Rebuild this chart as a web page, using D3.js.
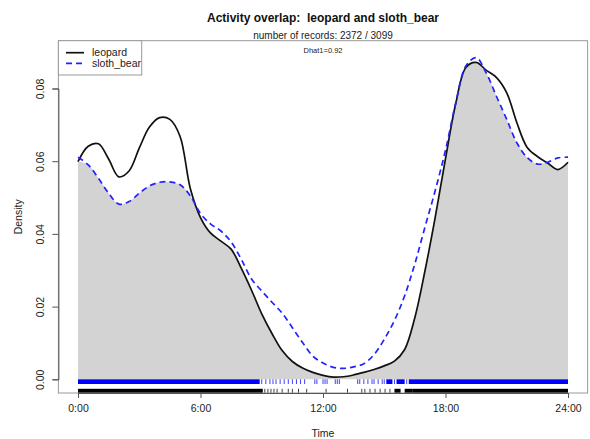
<!DOCTYPE html>
<html>
<head>
<meta charset="utf-8">
<script src="https://cdn.jsdelivr.net/npm/d3@7/dist/d3.min.js"></script>
<style>
  html, body { margin: 0; padding: 0; background: #fff; }
  svg { display: block; font-family: "Liberation Sans", Arial, sans-serif; }
</style>
</head>
<body>
<svg id="chart" width="590" height="439"></svg>
<script>
// Kernel density of activity (hour of day) for the two species
const hours = [0,0.5,1,1.5,2,2.5,3,3.5,4,4.5,5,5.5,6,6.5,7,7.5,8,8.5,9,9.5,10,10.5,11,11.5,
               12,12.5,13,13.5,14,14.5,15,15.5,16,16.5,17,17.5,18,18.5,19,19.5,20,20.5,21,21.5,22,22.5,23,23.5,24];
const leopard = [0.0599,0.0641,0.0648,0.0606,0.0557,0.0573,0.0636,0.0694,0.0720,0.0715,0.0668,0.0525,0.0445,0.0402,0.0380,0.0358,0.0305,0.0245,0.0180,0.0126,0.0079,0.0049,0.0031,0.0019,
                 0.0011,0.0006,0.0007,0.0012,0.0019,0.0027,0.0037,0.0050,0.0082,0.0170,0.0300,0.0447,0.0607,0.0758,0.0858,0.0872,0.0850,0.0830,0.0788,0.0705,0.0638,0.0613,0.0595,0.0577,0.0597];
const slothBear = [0.0611,0.0590,0.0553,0.0512,0.0482,0.0489,0.0512,0.0532,0.0542,0.0543,0.0535,0.0505,0.0456,0.0427,0.0408,0.0378,0.0330,0.0276,0.0243,0.0212,0.0182,0.0142,0.0101,0.0064,
                   0.0045,0.0033,0.0030,0.0034,0.0043,0.0068,0.0110,0.0162,0.0230,0.0318,0.0420,0.0520,0.0630,0.0760,0.0862,0.0885,0.0842,0.0778,0.0715,0.0650,0.0610,0.0592,0.0597,0.0609,0.0611];

// Record times shown as rugs: continuous runs [from, to] and isolated records (hours)
const bearRuns = [[0,8.9],[15.1,15.4],[15.6,16.0],[16.2,24]];
const bearTimes = [9.0,9.2,9.4,9.55,9.7,9.9,10.1,10.3,10.5,10.7,10.9,11.1,11.6,11.7,12.0,12.1,12.2,12.6,12.7,12.8,
                   13.7,13.8,14.0,14.2,14.4,14.5,14.7,14.9,15.0,15.5,16.1];
const leopardRuns = [[0,9.05],[15.5,15.8],[16.0,16.4],[16.4,24]];
const leopardTimes = [9.15,9.3,9.45,9.6,9.75,10.0,10.3,10.5,10.8,11.2,12.15,13.2,13.9,14.05,14.3,14.55,14.8,15.04,15.28];

const xTicks = [0,6,12,18,24];
const xTickLabels = ["0:00","6:00","12:00","18:00","24:00"];
const yTicks = [0,0.02,0.04,0.06,0.08];

const svg = d3.select("#chart");
const x = d3.scaleLinear().domain([0,24]).range([78,568]);
const y = d3.scaleLinear().domain([0,0.08]).range([379.3,88.5]);

// plotting region (axis ranges padded by 4%)
const bx0 = x(-0.96), bx1 = x(24.96);
const by0 = 40.7, by1 = 393;

// overlap area = pointwise minimum of both densities
const overlap = hours.map((h,i)=>({h, d: Math.min(leopard[i], slothBear[i])}));
svg.append("path")
  .datum(overlap)
  .attr("fill","#d3d3d3")
  .attr("d", d3.area().x(p=>x(p.h)).y0(y(0)).y1(p=>y(p.d)).curve(d3.curveCatmullRom));

// rugs
function rug(runs, times, top, bottom, color){
  const g = svg.append("g");
  g.selectAll("rect").data(runs).join("rect")
    .attr("x", r=>x(r[0])).attr("width", r=>x(r[1])-x(r[0]))
    .attr("y", top).attr("height", bottom-top).attr("fill", color);
  g.selectAll("line").data(times).join("line")
    .attr("x1", t=>x(t)).attr("x2", t=>x(t))
    .attr("y1", top).attr("y2", bottom)
    .attr("stroke", color).attr("stroke-width",1).attr("opacity",0.75);
}
rug(bearRuns, bearTimes, y(0), y(0)+4.7, "#0000ff");
rug(leopardRuns, leopardTimes, y(0)+9.5, by1, "#000");

// density curves
const line = d3.line().x((d,i)=>x(hours[i])).y(d=>y(d)).curve(d3.curveCatmullRom);
svg.append("path").datum(leopard).attr("fill","none").attr("stroke","#111")
  .attr("stroke-width",1.7).attr("d", line);
svg.append("path").datum(slothBear).attr("fill","none").attr("stroke","#2222ff")
  .attr("stroke-width",1.7).attr("stroke-dasharray","6,4").attr("d", line);

// frame
svg.append("rect").attr("x",bx0).attr("y",by0).attr("width",bx1-bx0).attr("height",by1-by0)
  .attr("fill","none").attr("stroke","#999").attr("stroke-width",1);

// x axis
const xAxis = svg.append("g").attr("transform",`translate(0,${by1})`)
  .call(d3.axisBottom(x).tickValues(xTicks).tickFormat((d,i)=>xTickLabels[i]).tickSizeOuter(0).tickSize(5).tickPadding(7));
xAxis.select(".domain").attr("stroke","#555");
xAxis.selectAll(".tick line").attr("stroke","#555");
xAxis.selectAll("text").attr("font-size",10.5).attr("fill","#222").attr("font-family","Liberation Sans, Arial, sans-serif");

// y axis with labels parallel to the axis
const yAxis = svg.append("g").attr("transform",`translate(${bx0},0)`)
  .call(d3.axisLeft(y).tickValues(yTicks).tickFormat(d3.format(".2f")).tickSizeOuter(0).tickSize(6));
yAxis.select(".domain").attr("stroke","#555");
yAxis.selectAll(".tick line").attr("stroke","#555");
yAxis.selectAll("text")
  .attr("font-size",10.5).attr("fill","#222").attr("font-family","Liberation Sans, Arial, sans-serif")
  .attr("x",0).attr("dy",0)
  .attr("text-anchor","middle")
  .attr("transform","translate(-14,0) rotate(-90)");

// titles
const cx = (bx0+bx1)/2;
svg.append("text").attr("x",cx).attr("y",22).attr("text-anchor","middle")
  .attr("font-weight","bold").attr("font-size",12).attr("fill","#111")
  .style("white-space","pre")
  .text("Activity overlap:  leopard and sloth_bear");
svg.append("text").attr("x",cx).attr("y",39).attr("text-anchor","middle")
  .attr("font-size",10).attr("fill","#222").text("number of records: 2372 / 3099");
svg.append("text").attr("x",cx).attr("y",53).attr("text-anchor","middle")
  .attr("font-size",7.5).attr("fill","#222").text("Dhat1=0.92");
svg.append("text").attr("x",cx).attr("y",437).attr("text-anchor","middle")
  .attr("font-size",10.5).attr("fill","#222").text("Time");
svg.append("text").attr("transform",`translate(22,${(by0+by1)/2}) rotate(-90)`)
  .attr("text-anchor","middle").attr("font-size",10.5).attr("fill","#222").text("Density");

// legend
const lg = svg.append("g");
lg.append("rect").attr("x",bx0).attr("y",by0).attr("width",141.7-bx0).attr("height",75-by0)
  .attr("fill","#fff").attr("stroke","#999");
const items = [{name:"leopard", color:"#111", dash:null},{name:"sloth_bear", color:"#2222ff", dash:"6,4"}];
items.forEach((it,i)=>{
  const yy = 52.7 + i*10.6;
  lg.append("line").attr("x1",66).attr("x2",84).attr("y1",yy).attr("y2",yy)
    .attr("stroke",it.color).attr("stroke-width",1.7).attr("stroke-dasharray",it.dash);
  lg.append("text").attr("x",92).attr("y",yy+3.5).attr("font-size",10.5).attr("fill","#222").text(it.name);
});
</script>
</body>
</html>
